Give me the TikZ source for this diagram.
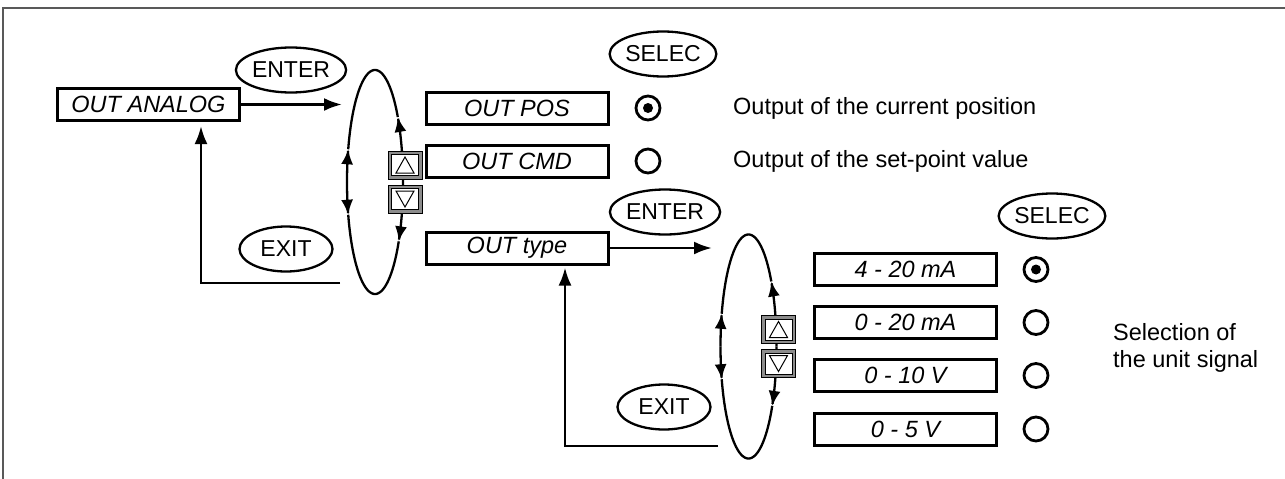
\documentclass[tikz,border=0pt]{standalone}
\usepackage{fontspec}
\setmainfont{Liberation Sans}
\usetikzlibrary{arrows.meta,shapes.geometric}
\begin{document}
\begin{tikzpicture}[x=1pt,y=-1pt,
  menubox/.style={draw, line width=3pt, minimum width=182pt, minimum height=32pt, inner sep=0pt, font=\fontsize{23.5}{26}\selectfont\itshape},
  keyoval/.style={draw, ellipse, line width=2.3pt, minimum width=93pt, minimum height=45pt, inner sep=0pt, font=\fontsize{23}{25}\selectfont},
  radio/.style={draw, circle, line width=2.8pt, minimum size=24pt, inner sep=0pt},
  radiodot/.style={fill, circle, minimum size=10pt, inner sep=0pt},
  desc/.style={font=\fontsize{23.5}{27}\selectfont, inner sep=0pt},
  conn/.style={line width=2.7pt, -{Latex[length=18pt,width=13pt]}},
  loopline/.style={line width=2.3pt},
  looparrow/.style={line width=2.3pt, -{Latex[length=15pt,width=12pt]}},
  borderline/.style={draw=black!65, line width=2pt},
  btnouter/.style={draw=black, line width=0.9pt, fill=black!45, minimum width=34pt, minimum height=28pt, inner sep=0pt},
  btninner/.style={draw=black, line width=0.9pt, fill=white, minimum width=27pt, minimum height=21pt, inner sep=0pt},
  updownloop/.pic={
    \draw[looparrow] plot[domain=0:-35.5,samples=30] ({28*cos(\x)},{112*sin(\x)});
    \draw[looparrow] plot[domain=0:32,samples=30] ({28*cos(\x)},{112*sin(\x)});
    \draw[looparrow] plot[domain=180:197,samples=20] ({28*cos(\x)},{112*sin(\x)});
    \draw[looparrow] plot[domain=180:163,samples=20] ({28*cos(\x)},{112*sin(\x)});
    \draw[loopline] plot[domain=-35.5:-163,samples=90] ({28*cos(\x)},{112*sin(\x)});
    \draw[loopline] plot[domain=32:163,samples=90] ({28*cos(\x)},{112*sin(\x)});
    \node[btnouter] (-up) at (30,-17) {};
    \node[btninner] (-upin) at (-up) {};
    \draw[line width=1pt] (21,-9) -- (39,-9) -- (30,-25) -- cycle;
    \node[btnouter] (-down) at (30,17) {};
    \node[btninner] (-downin) at (-down) {};
    \draw[line width=1pt] (21,9) -- (39,9) -- (30,25) -- cycle;
  }
]
\useasboundingbox (0,0) rectangle (1285,479);
% frame lines
\coordinate (ftl) at (3,8);
\coordinate (ftr) at (1285,8);
\coordinate (fbl) at (3,479);
\draw[borderline] (fbl) -- (ftl) -- (ftr);

% level 1
\node[menubox] (outanalog) at (148.5,104.5) {OUT ANALOG};
\node[keyoval] (enter1) at (291,70) {ENTER};
\node[keyoval] (exit1) at (286,249) {EXIT};
\pic (L1) at (375,182) {updownloop};
\node[menubox] (outpos) at (517,108) {OUT POS};
\node[menubox] (outcmd) at (517,161) {OUT CMD};
\node[menubox] (outtype) at (517,248) {OUT type};
\node[keyoval] (selec1) at (663,54) {SELEC};
\node[radio] (r1a) at (648,108) {};
\node[radiodot] (d1a) at (r1a) {};
\node[radio] (r1b) at (648,161) {};
\node[desc, anchor=base west] (t1a) at (733,114) {Output of the current position};
\node[desc, anchor=base west] (t1b) at (733,167) {Output of the set-point value};

\coordinate (in1) at (342,104.5);
\draw[conn] (outanalog.east) -- (in1);
\coordinate (ret1) at (340,283);
\draw[conn, shorten >=4pt] (ret1) -| ([xshift=52.5pt]outanalog.south);

% level 2
\node[keyoval] (enter2) at (665,212) {ENTER};
\node[keyoval] (exit2) at (664,407) {EXIT};
\pic (L2) at (748.5,346.5) {updownloop};
\node[menubox] (m420) at (905.5,269.5) {4 - 20 mA};
\node[menubox] (m020) at (905.5,322.5) {0 - 20 mA};
\node[menubox] (v010) at (905.5,375.5) {0 - 10 V};
\node[menubox] (v05) at (905.5,429) {0 - 5 V};
\node[keyoval] (selec2) at (1052,216) {SELEC};
\node[radio] (r2a) at (1036,269.5) {};
\node[radiodot] (d2a) at (r2a) {};
\node[radio] (r2b) at (1036,322.5) {};
\node[radio] (r2c) at (1036,375.5) {};
\node[radio] (r2d) at (1036,429) {};
\node[desc, anchor=west, align=left] (t2) at (1113,348) {Selection of\\the unit signal};

\coordinate (in2) at (712,248);
\draw[conn] (outtype.east) -- (in2);
\coordinate (ret2) at (718,446);
\draw[conn, shorten >=2pt] (ret2) -| ([xshift=48pt]outtype.south);
\end{tikzpicture}
\end{document}
